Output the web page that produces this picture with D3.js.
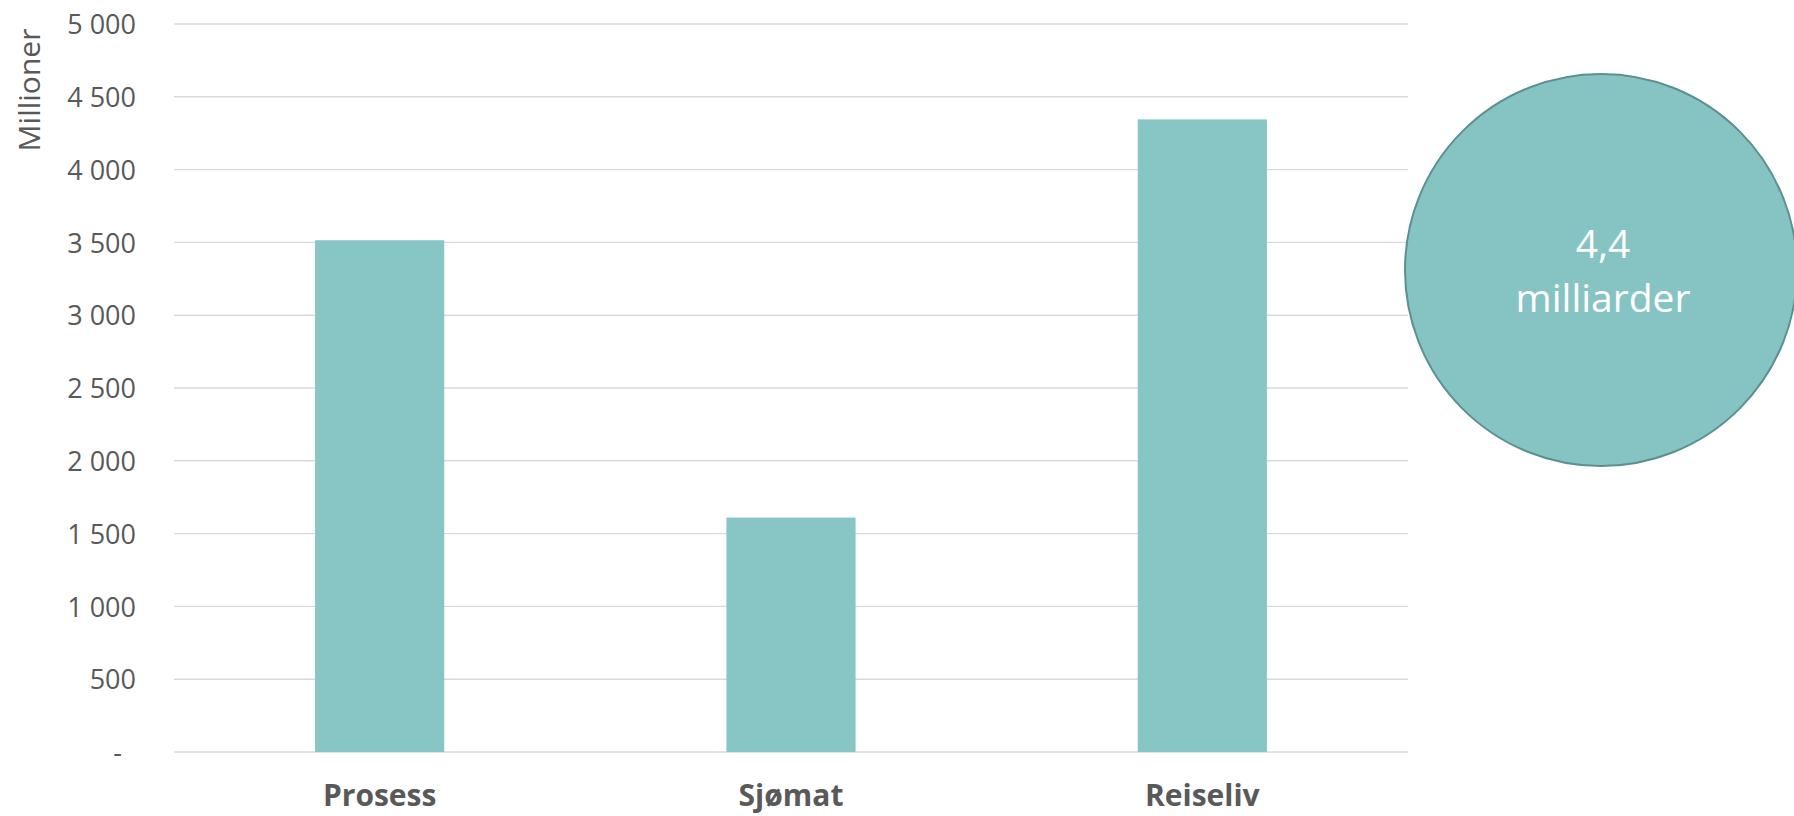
<!DOCTYPE html>
<html>
<head>
<meta charset="utf-8">
<script src="https://cdn.jsdelivr.net/npm/d3@7"></script>
<style>
  html, body { margin: 0; padding: 0; background: #ffffff; }
  svg { display: block; }
</style>
</head>
<body>
<svg id="chart" width="1794" height="816"></svg>
<script>
const categories = ["Prosess", "Sjømat", "Reiseliv"];
const values = [3515, 1610, 4345];
const yTicks = [0, 500, 1000, 1500, 2000, 2500, 3000, 3500, 4000, 4500, 5000];
const yTickLabels = ["-", "500", "1 000", "1 500", "2 000", "2 500", "3 000", "3 500", "4 000", "4 500", "5 000"];
const yTitle = "Millioner";
const bubbleLines = ["4,4", "milliarder"];

(function () {
const svg = d3.select("#chart");
const mLeft = 174, mRight = 1408, mTop = 24, mBottom = 752;

const x = d3.scaleBand().domain(categories).range([mLeft, mRight])
  .paddingInner(0.686).paddingOuter(0.343);
const y = d3.scaleLinear().domain([0, 5000]).range([mBottom, mTop]);

const font = "'Open Sans', 'Noto Sans', sans-serif";
const grey = "#595959";

// gridlines
svg.append("g").selectAll("line").data(yTicks).join("line")
  .attr("x1", mLeft).attr("x2", mRight)
  .attr("y1", d => y(d)).attr("y2", d => y(d))
  .attr("stroke", "#d9d9d9").attr("stroke-width", 1.4);

// y axis labels
const yAxis = d3.axisLeft(y).tickValues(yTicks)
  .tickFormat((d, i) => yTickLabels[i]).tickSize(0).tickPadding(38);
const gy = svg.append("g").attr("transform", `translate(${mLeft},0)`).call(yAxis);
gy.select(".domain").remove();
gy.selectAll("text")
  .attr("fill", grey).style("font-family", font).style("font-size", "27px")
  .attr("dx", d => d === 0 ? -14 : 0)
  .attr("dy", "0.36em");

// y title
svg.append("text")
  .attr("transform", "translate(40,90) rotate(-90)")
  .attr("text-anchor", "middle")
  .attr("fill", grey).style("font-family", font).style("font-size", "30px")
  .text(yTitle);

// bars
svg.append("g").selectAll("rect").data(values).join("rect")
  .attr("x", (d, i) => x(categories[i]))
  .attr("width", x.bandwidth())
  .attr("y", d => y(d))
  .attr("height", d => y(0) - y(d))
  .attr("fill", "#88c5c5");

// x axis labels
const xAxis = d3.axisBottom(x).tickSize(0).tickPadding(0);
const gx = svg.append("g").attr("transform", `translate(0,${mBottom})`).call(xAxis);
gx.select(".domain").remove();
gx.selectAll("text")
  .attr("y", 54).attr("dy", 0)
  .attr("fill", grey).style("font-family", font).style("font-size", "30px")
  .style("font-weight", "bold");

// bubble
const bubble = svg.append("g").attr("transform", "translate(1601,270)");
bubble.append("circle").attr("r", 196)
  .attr("fill", "#86c4c4").attr("stroke", "#5c9090").attr("stroke-width", 2);
bubble.selectAll("text").data(bubbleLines).join("text")
  .attr("x", 2).attr("y", (d, i) => -12 + i * 54)
  .attr("text-anchor", "middle")
  .attr("fill", "#ffffff").style("font-family", font).style("font-size", "39px")
  .text(d => d);
})();
</script>
</body>
</html>
